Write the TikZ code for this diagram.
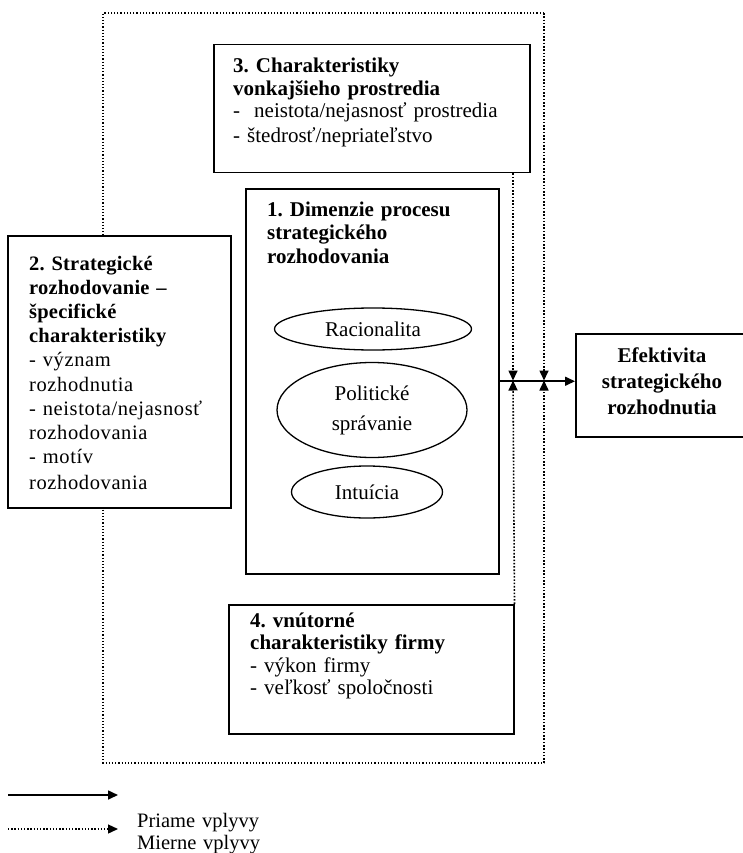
\documentclass[tikz,border=0pt]{standalone}
\usepackage{fontspec}
\setmainfont{Liberation Serif}
\newfontfamily\spacedfont[LetterSpace=3, BoldFeatures={LetterSpace=1}]{Liberation Serif}
\usetikzlibrary{arrows.meta,shapes.geometric}
\tikzset{
  box/.style={draw, line width=1.5pt, fill=white, rectangle, inner sep=0pt, anchor=north west},
  txt/.style={anchor=base west, inner sep=0pt, text width=320pt, align=left},
  oval/.style={draw, line width=1.3pt, ellipse, inner sep=0pt, align=center},
  dotline/.style={line width=1.3pt, dash pattern=on 1.3pt off 1.9pt},
  dotconn/.style={line width=1.6pt, dash pattern=on 1.6pt off 1.7pt},
  solidarr/.style={line width=1.6pt},
  >={Triangle[length=10pt,width=9pt]}
}
\begin{document}
\frenchspacing
\begin{tikzpicture}[x=1pt,y=-1pt]
\useasboundingbox (0,0) rectangle (743,853);
% outer dotted frame
\coordinate (onw) at (103,13);
\coordinate (one) at (544,13);
\coordinate (osw) at (103,763);
\coordinate (ose) at (544,763);
\draw[dotline] (one) -- (onw) -- (osw) -- (ose);
% boxes
\node[box, minimum width=316pt, minimum height=128pt] (b3) at (213,44) {};
\node[box, minimum width=253pt, minimum height=385pt] (b1) at (245,188) {};
\node[box, minimum width=223pt, minimum height=272pt] (b2) at (7,235) {};
\node[box, minimum width=285pt, minimum height=129pt] (b4) at (228,604) {};
\node[box, minimum width=175pt, minimum height=103pt] (eff) at (575,333) {};
% texts
\node[txt, font=\fontsize{21}{22.5}\selectfont] (t3) at (233,73)
  {\textbf{3. Charakteristiky}\\\textbf{vonkajšieho prostredia}\\-\ \ neistota/nejasnosť prostredia\\[2pt]- štedrosť/nepriateľstvo};
\node[txt, font=\fontsize{21}{23.5}\selectfont] (t1) at (267,216)
  {\textbf{1. Dimenzie procesu}\\\textbf{strategického}\\\textbf{rozhodovania}};
\node[txt, font=\fontsize{20.5}{24.2}\spacedfont] (t2) at (29,270)
  {\textbf{2. Strategické}\\\textbf{rozhodovanie –}\\\textbf{špecifické}\\\textbf{charakteristiky}\\- význam\\rozhodnutia\\- neistota/nejasnosť\\rozhodovania\\- motív\\[2pt]rozhodovania};
\node[txt, font=\fontsize{21}{22.5}\selectfont] (t4) at (250,627)
  {\textbf{4. vnútorné}\\\textbf{charakteristiky firmy}\\- výkon firmy\\- veľkosť spoločnosti};
\node[anchor=base, inner sep=0pt, text width=170pt, align=center, font=\fontsize{21}{26}\selectfont\bfseries] (t5) at (662,362)
  {Efektivita\\strategického\\rozhodnutia};
% ellipses
\node[oval, minimum width=197pt, minimum height=42pt, font=\fontsize{21}{24}\selectfont] (e1) at (373,329) {Racionalita};
\node[oval, minimum width=190pt, minimum height=95pt, font=\fontsize{21}{30}\selectfont] (e2) at (372,410) {Politické\\správanie};
\node[oval, minimum width=151pt, minimum height=52pt, font=\fontsize{21}{24}\selectfont] (e3) at (367,492) {Intuícia};
% connectors
\coordinate (a1) at (513,380.5);
\coordinate (a2) at (544,380.5);
\draw[solidarr,->] (b1.east) -- (b1.east -| eff.west);
\draw[dotconn,->] (b3.south -| a1) -- (a1);
\draw[dotconn,->] (b4.north east) -- (a1);
\draw[dotconn,->] (one) -- (a2);
\draw[dotconn,->] (ose) -- (a2);
% legend
\coordinate (l1a) at (8,795);
\coordinate (l1b) at (118,795);
\coordinate (l2a) at (8,829);
\coordinate (l2b) at (118,829);
\draw[solidarr,->] (l1a) -- (l1b);
\draw[dotline,->] (l2a) -- (l2b);
\node[txt, font=\fontsize{20.5}{22}\selectfont] (leg) at (137,827) {Priame vplyvy\\Mierne vplyvy};
\end{tikzpicture}
\end{document}
